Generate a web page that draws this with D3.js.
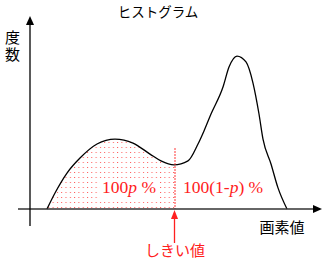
<!DOCTYPE html>
<html><head><meta charset="utf-8">
<script src="https://cdn.jsdelivr.net/npm/d3@7"></script>
<style>body{margin:0;background:#fff}</style>
</head><body>
<svg id="c" width="322" height="262"></svg>
<script>
// pixel value (x) and frequency (y) samples of the histogram outline
const pixelValues = [17, 25, 37, 50, 67, 85, 103, 120, 131, 144, 158, 168, 174, 181, 193, 199, 207, 216, 223, 229, 233, 241, 248, 257];
const frequencies = [0, 8.4, 18.9, 26.8, 34.2, 36.8, 34.7, 28.9, 25.3, 23.2, 25.3, 34.2, 41.1, 50, 64.2, 74.7, 80.5, 77.4, 66.3, 50, 36.8, 23.7, 11.1, 0];
const thresholdValue = 145;
const title = "ヒストグラム";
const yLabel = "度数";
const xLabel = "画素値";
const thresholdLabel = "しきい値";

const svg = d3.select("#c");
const x = d3.scaleLinear().domain([0, 290]).range([30, 320]);
const y = d3.scaleLinear().domain([0, 100]).range([209, 19]);
const pts = pixelValues.map((v, i) => [v, frequencies[i]]);

const defs = svg.append("defs");
const pat = defs.append("pattern").attr("id", "dots").attr("patternUnits", "userSpaceOnUse")
  .attr("width", 4.3).attr("height", 5).attr("x", 1).attr("y", 2);
pat.append("rect").attr("x", 0).attr("y", 0).attr("width", 1).attr("height", 1).attr("fill", "#ff2020").attr("opacity", 0.75);
defs.append("clipPath").attr("id", "left").append("rect")
  .attr("x", 0).attr("y", 0).attr("width", x(thresholdValue)).attr("height", y(0) - 1);

const curve = d3.curveMonotoneX;
const area = d3.area().x(d => x(d[0])).y0(y(0)).y1(d => y(d[1])).curve(curve);
const line = d3.line().x(d => x(d[0])).y(d => y(d[1])).curve(curve);

svg.append("path").attr("d", area(pts)).attr("fill", "url(#dots)").attr("clip-path", "url(#left)");

// white knockout behind left label
svg.append("rect").attr("x", 100).attr("y", 179).attr("width", 58).attr("height", 19).attr("fill", "#fff");

svg.append("path").attr("d", line(pts)).attr("fill", "none").attr("stroke", "#000").attr("stroke-width", 1.3);

// threshold dashed line
const thrFreq = 23.5;
svg.append("line").attr("x1", x(thresholdValue)).attr("x2", x(thresholdValue))
  .attr("y1", y(thrFreq) - 16).attr("y2", y(0)).attr("stroke", "#ff2020").attr("stroke-width", 1.2)
  .attr("stroke-dasharray", "1.5,1.5");

// axes
svg.append("line").attr("x1", 18).attr("x2", 314).attr("y1", y(0)).attr("y2", y(0))
  .attr("stroke", "#333").attr("stroke-width", 1.5);
svg.append("path").attr("d", `M322,${y(0)} L313,${y(0) - 4} L313,${y(0) + 4} Z`).attr("fill", "#000");
svg.append("line").attr("x1", x(0)).attr("x2", x(0)).attr("y1", 226).attr("y2", 24)
  .attr("stroke", "#000").attr("stroke-width", 1.3);
svg.append("path").attr("d", `M${x(0)},16 L${x(0) - 4},25 L${x(0) + 4},25 Z`).attr("fill", "#000");

// threshold arrow
const tx = x(thresholdValue) - 0.5;
svg.append("line").attr("x1", tx).attr("x2", tx).attr("y1", 243).attr("y2", 218)
  .attr("stroke", "#ff2020").attr("stroke-width", 1.3);
svg.append("path").attr("d", `M${tx},210 L${tx - 3.5},219 L${tx + 3.5},219 Z`).attr("fill", "#ff2020");

const jp = "'Noto Sans CJK JP', sans-serif";
svg.append("text").attr("x", 158).attr("y", 17).attr("text-anchor", "middle")
  .attr("font-family", jp).attr("font-size", 13.5).attr("fill", "#000").text(title);
svg.append("text").attr("x", 12.5).attr("y", 30).attr("writing-mode", "vertical-rl")
  .style("writing-mode", "vertical-rl").attr("letter-spacing", 1.5)
  .attr("font-family", jp).attr("font-size", 15).attr("fill", "#000").text(yLabel);
svg.append("text").attr("x", 282).attr("y", 233).attr("text-anchor", "middle")
  .attr("font-family", jp).attr("font-size", 15).attr("fill", "#000").text(xLabel);
svg.append("text").attr("x", 175).attr("y", 256).attr("text-anchor", "middle")
  .attr("font-family", jp).attr("font-size", 15).attr("fill", "#ff2020").text(thresholdLabel);

const serif = "'Liberation Serif', 'DejaVu Serif', serif";
const t1 = svg.append("text").attr("x", 102).attr("y", 192.5).attr("font-family", serif)
  .attr("font-size", 17.5).attr("fill", "#ff2020");
t1.append("tspan").text("100");
t1.append("tspan").attr("font-style", "italic").text("p");
t1.append("tspan").text(" %");
const t2 = svg.append("text").attr("x", 183).attr("y", 192.5).attr("font-family", serif)
  .attr("font-size", 17.5).attr("fill", "#ff2020");
t2.append("tspan").text("100(1-");
t2.append("tspan").attr("font-style", "italic").text("p");
t2.append("tspan").text(") %");
</script>
</body></html>
